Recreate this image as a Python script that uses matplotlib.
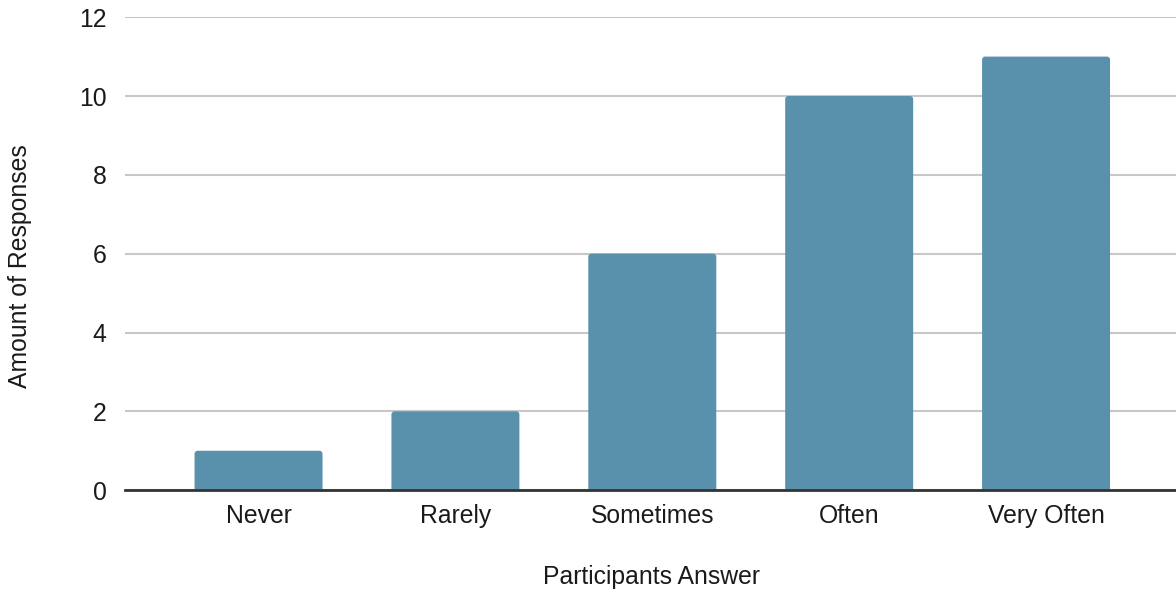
import matplotlib.pyplot as plt
from matplotlib.patches import FancyBboxPatch

answers = ["Never", "Rarely", "Sometimes", "Often", "Very Often"]
responses = [1, 2, 6, 10, 11]

plt.rcParams['font.family'] = ['Liberation Sans', 'DejaVu Sans']

fig = plt.figure(figsize=(11.76, 5.92), dpi=100)
ax = fig.add_axes([0.106, 0.172, 0.894, 0.799])

bar_color = "#5990ab"
width = 0.65
bars = ax.bar(range(len(answers)), responses, width=width, color="none")

# swap plain bars for ones with slightly rounded corners
for rect in bars:
    x, w, h = rect.get_x(), rect.get_width(), rect.get_height()
    patch = FancyBboxPatch((x, -0.3), w, h + 0.3,
                           boxstyle="round,pad=0,rounding_size=0.016",
                           mutation_aspect=5.0, facecolor=bar_color,
                           edgecolor="none", zorder=2)
    ax.add_patch(patch)

ax.set_xlim(-0.68, 4.66)
ax.set_ylim(0, 12)
ax.set_yticks(range(0, 13, 2))
ax.set_xticks(range(len(answers)))
ax.set_xticklabels(answers)

ax.grid(axis="y", color="#c8c8c8", linewidth=1.5, zorder=0)
ax.set_axisbelow(True)
for side in ["top", "right", "left"]:
    ax.spines[side].set_visible(False)
ax.spines["bottom"].set_color("#333333")
ax.spines["bottom"].set_linewidth(2)
ax.spines["bottom"].set_zorder(3)

fs = 17.8
ax.tick_params(axis="both", length=0, labelsize=fs, colors="#1a1a1a")
ax.tick_params(axis="y", pad=13)
ax.tick_params(axis="x", pad=10)

# axis titles placed in figure coordinates
fig.text(652 / 1176, 1 - 577 / 592, "Participants Answer", fontsize=fs,
         ha="center", va="center", color="#1a1a1a")
fig.text(20 / 1176, 1 - 266 / 592, "Amount of Responses", fontsize=fs,
         ha="center", va="center", rotation=90, color="#1a1a1a")

fig.savefig("out.png", dpi=100)
